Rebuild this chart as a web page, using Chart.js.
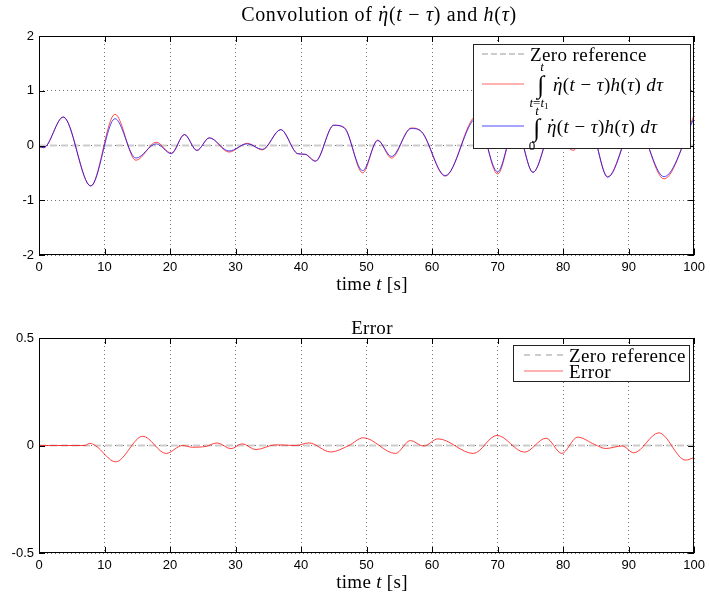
<!DOCTYPE html>
<html>
<head>
<meta charset="utf-8">
<script src="https://cdn.jsdelivr.net/npm/chart.js@4.4.1/dist/chart.umd.min.js"></script>
<style>
  body { margin: 0; background: #fff; }
  #wrap { position: relative; width: 710px; height: 598px; background: #fff; overflow: hidden; }
  canvas { position: absolute; left: 0; }
  .t { position: absolute; font-family: 'Liberation Serif', serif; font-size: 19px; color: #000;
       white-space: nowrap; transform: translate(-50%, -50%); line-height: 1; }
  .legend { position: absolute; background: #fff; border: 1px solid #222; box-sizing: border-box; }
  .legend > span { position: absolute; white-space: nowrap; line-height: 1; color: #000;
       font-family: 'Liberation Serif', serif; }
  .lt { font-size: 19px; letter-spacing: 0.4px; transform: translateY(-50%); }
  .sm { font-size: 13px; transform: translate(-50%, -50%); }
  .ig { font-size: 25px; transform: translate(-50%, -50%); }
  .sample { height: 0; width: 42px; border-top: 1px solid; transform: translateY(-50%); }
  .eta { position: relative; font-style: italic; }
  .eta .dot { position: absolute; left: 0.12em; top: -0.02em; font-style: normal; }
  sub { font-size: 9px; vertical-align: -2px; }
</style>
</head>
<body>
<div id="wrap">
  <canvas id="topChart" width="710" height="300" style="top:0"></canvas>
  <canvas id="errChart" width="710" height="298" style="top:300px"></canvas>

  <div class="t" style="left:379px;top:14px;font-size:20px;letter-spacing:0.7px">Convolution of <span class="eta">η<span class="dot">˙</span></span>(<i>t</i> − <i>τ</i>) and <i>h</i>(<i>τ</i>)</div>
  <div class="t" style="left:372px;top:283px;letter-spacing:0.3px">time <i>t</i> [s]</div>
  <div class="t" style="left:372px;top:327px;letter-spacing:0.3px">Error</div>
  <div class="t" style="left:372px;top:581px;letter-spacing:0.3px">time <i>t</i> [s]</div>

  <div class="legend" style="left:473px;top:44px;width:218px;height:105px">
    <span class="sample" style="left:8px;top:9px;border-top:2px dashed #cccccc"></span>
    <span class="lt" style="left:56px;top:9px">Zero reference</span>
    <span class="sample" style="left:8px;top:39px;border-color:rgba(255,0,0,0.6)"></span>
    <span class="sm" style="left:68px;top:21px"><i>t</i></span>
    <span class="ig" style="left:67px;top:39px">∫</span>
    <span class="sm" style="left:65px;top:58px"><i>t</i>=<i>t</i><sub>1</sub></span>
    <span class="lt" style="left:79px;top:39px"><span class="eta">η<span class="dot">˙</span></span>(<i>t</i> − <i>τ</i>)<i>h</i>(<i>τ</i>) <i>dτ</i></span>
    <span class="sample" style="left:8px;top:81px;border-color:rgba(0,0,255,0.7)"></span>
    <span class="sm" style="left:63px;top:65px"><i>t</i></span>
    <span class="ig" style="left:63px;top:82px">∫</span>
    <span class="sm" style="left:58px;top:100px">0</span>
    <span class="lt" style="left:73px;top:81px"><span class="eta">η<span class="dot">˙</span></span>(<i>t</i> − <i>τ</i>)<i>h</i>(<i>τ</i>) <i>dτ</i></span>
  </div>

  <div class="legend" style="left:513px;top:345px;width:177px;height:37px">
    <span class="sample" style="left:10px;top:9px;width:39px;border-top:2px dashed #cccccc"></span>
    <span class="lt" style="left:55px;top:9px">Zero reference</span>
    <span class="sample" style="left:10px;top:25px;width:39px;border-color:rgba(255,0,0,0.6)"></span>
    <span class="lt" style="left:55px;top:25px">Error</span>
  </div>
</div>

<script>
// time samples and values (top panel)
const tTop = [0, 0.7, 3.7, 7.9, 11.6, 14.8, 17.9, 20.2, 22.2, 24.1, 26.0, 29.0, 31.8, 34.1, 36.9,
  39.5, 40.6, 42.2, 45.0, 46.6, 49.4, 51.7, 53.8, 56.8, 58.4, 62.0, 66.8, 70.0, 72.7, 75.4,
  78.5, 81.5, 84.0, 86.8, 91.0, 95.4, 100];
// integral from 0 to t (blue)
const convFull = [-0.02, -0.04, 0.52, -0.74, 0.49, -0.23, 0.03, -0.15, 0.20, -0.09, 0.14, -0.10, 0.03, -0.07, 0.29,
  -0.15, -0.16, -0.29, 0.37, 0.32, -0.46, 0.09, -0.20, 0.31, 0.25, -0.55, 0.50, -0.48, 0.38, -0.49,
  0.35, -0.06, 0.35, -0.58, 0.42, -0.57, 0.50];
// integral from t - t1 to t (red)
const convWindow = [-0.02, -0.04, 0.52, -0.74, 0.57, -0.27, 0.06, -0.14, 0.20, -0.09, 0.14, -0.12, 0.04, -0.08, 0.29,
  -0.15, -0.16, -0.28, 0.37, 0.33, -0.50, 0.10, -0.23, 0.32, 0.25, -0.56, 0.54, -0.52, 0.38, -0.49,
  0.32, -0.09, 0.35, -0.57, 0.45, -0.61, 0.55];

// error panel
const tErr = [0, 7.0, 7.75, 8.6, 11.7, 15.85, 19.4, 21.9, 23.4, 25.5, 27.2, 29.3, 31.0, 33.1, 36.1,
  39.2, 41.2, 44.5, 47.3, 49.5, 54.4, 56.7, 58.7, 60.9, 66.3, 69.9, 74.1, 77.4, 79.8, 82.2,
  84.8, 86.5, 89.0, 90.8, 94.6, 98.7, 100];
const errVals = [0, 0, 0.01, 0, -0.076, 0.043, -0.037, 0, -0.008, -0.004, 0.012, -0.015, 0.008, -0.019, 0.003,
  0, 0.012, -0.03, 0, 0.036, -0.037, 0.023, -0.003, 0.031, -0.037, 0.047, -0.031, 0.034, -0.037, 0.039,
  0.005, -0.014, -0.002, -0.034, 0.059, -0.068, -0.056];

const xRange = [0, 100];
const xTicks = [0, 10, 20, 30, 40, 50, 60, 70, 80, 90, 100];
const yTicksTop = [-2, -1, 0, 1, 2];
const yTicksErr = [-0.5, 0, 0.5];

const toPoints = (xs, ys) => xs.map((x, i) => ({ x, y: ys[i] }));

// matlab style box with inward ticks
const frameBox = {
  id: 'frameBox',
  afterDraw(chart) {
    const { ctx, chartArea: a, scales } = chart;
    const len = 6;
    ctx.save();
    ctx.strokeStyle = '#000';
    ctx.lineWidth = 1;
    ctx.beginPath();
    scales.x.ticks.forEach(tk => {
      const px = Math.round(scales.x.getPixelForValue(tk.value)) + 0.5;
      ctx.moveTo(px, a.bottom); ctx.lineTo(px, a.bottom - len);
      ctx.moveTo(px, a.top); ctx.lineTo(px, a.top + len);
    });
    scales.y.ticks.forEach(tk => {
      const py = Math.round(scales.y.getPixelForValue(tk.value)) + 0.5;
      ctx.moveTo(a.left, py); ctx.lineTo(a.left + len, py);
      ctx.moveTo(a.right, py); ctx.lineTo(a.right - len, py);
    });
    ctx.stroke();
    ctx.strokeRect(Math.round(a.left) + 0.5, Math.round(a.top) + 0.5,
      Math.round(a.right - a.left) - 1, Math.round(a.bottom - a.top) - 1);
    ctx.restore();
  }
};

function makeChart(id, datasets, yMin, yMax, yTicks, padTop) {
  return new Chart(document.getElementById(id), {
    type: 'line',
    data: { datasets },
    options: {
      responsive: false,
      animation: false,
      devicePixelRatio: 1,
      layout: { padding: { left: 0, right: 13, top: padTop, bottom: 0 } },
      plugins: { legend: { display: false }, tooltip: { enabled: false }, title: { display: false } },
      elements: { point: { radius: 0 }, line: { borderWidth: 1, cubicInterpolationMode: 'monotone' } },
      scales: {
        x: {
          type: 'linear', min: 0, max: 100,
          afterBuildTicks: s => { s.ticks = xTicks.map(v => ({ value: v })); },
          afterFit: s => { s.height = 45; },
          grid: { color: 'rgba(0,0,0,0.55)', drawTicks: false },
          border: { display: false, dash: [1, 3] },
          ticks: { color: '#000', font: { family: 'Liberation Sans', size: 13 }, padding: 5,
                   maxRotation: 0, autoSkip: false }
        },
        y: {
          type: 'linear', min: yMin, max: yMax,
          afterBuildTicks: s => { s.ticks = yTicks.map(v => ({ value: v })); },
          afterFit: s => { s.width = 39; },
          grid: { color: 'rgba(0,0,0,0.55)', drawTicks: false },
          border: { display: false, dash: [1, 3] },
          ticks: { color: '#000', font: { family: 'Liberation Sans', size: 13 }, padding: 5,
                   callback: v => String(v) }
        }
      }
    },
    plugins: [frameBox]
  });
}

const zeroLine = (order) => ({
  data: toPoints(xRange, [0, 0]),
  borderColor: '#cccccc', borderWidth: 2, borderDash: [7, 4], order
});

makeChart('topChart', [
  zeroLine(3),
  { data: toPoints(tTop, convWindow), borderColor: 'rgba(255,0,0,0.7)', order: 2 },
  { data: toPoints(tTop, convFull), borderColor: 'rgba(0,0,255,0.7)', order: 1 }
], -2, 2, yTicksTop, 36);

makeChart('errChart', [
  zeroLine(2),
  { data: toPoints(tErr, errVals), borderColor: 'rgba(255,0,0,0.75)', order: 1 }
], -0.5, 0.5, yTicksErr, 38);
</script>
</body>
</html>
